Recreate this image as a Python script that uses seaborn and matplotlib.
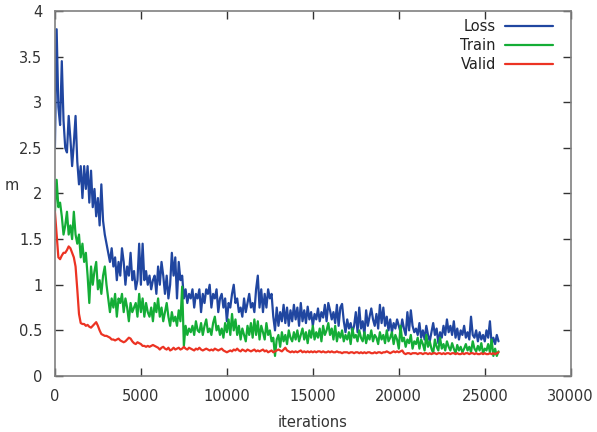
import numpy as np
import pandas as pd
import matplotlib
matplotlib.use("Agg")
import matplotlib.pyplot as plt
from matplotlib.ticker import FuncFormatter, MultipleLocator
import seaborn as sns

# iterations sampled every 100 steps
iterations = list(range(0, 25900, 100))

loss = [
    2.50, 3.80, 2.95, 2.75, 3.45, 2.80, 2.50, 2.45, 2.85, 2.60,
    2.30, 2.55, 2.85, 2.35, 2.10, 2.30, 1.95, 2.30, 2.05, 2.30,
    1.90, 2.25, 1.85, 2.05, 1.75, 1.95, 1.65, 2.10, 1.70, 1.55,
    1.45, 1.35, 1.25, 1.40, 1.20, 1.30, 1.05, 1.25, 1.10, 1.40,
    1.25, 1.00, 1.20, 1.10, 1.35, 1.05, 1.15, 0.95, 1.05, 1.45,
    1.00, 1.45, 1.05, 1.15, 1.00, 1.10, 0.95, 1.05, 1.10, 0.90,
    1.20, 1.00, 1.25, 1.10, 0.90, 1.10, 0.85, 1.00, 1.35, 1.10,
    1.30, 0.85, 1.25, 1.05, 1.10, 0.85, 0.95, 0.80, 0.90, 0.85,
    0.95, 0.75, 0.90, 0.85, 0.95, 0.70, 0.90, 0.80, 0.95, 0.90,
    1.00, 0.75, 0.90, 0.85, 0.95, 0.70, 0.85, 0.90, 0.75, 0.85,
    0.60, 0.80, 0.75, 0.90, 1.00, 0.80, 0.85, 0.70, 0.75, 0.65,
    0.85, 0.70, 0.80, 0.90, 0.75, 0.80, 0.70, 0.95, 1.10, 0.75,
    0.95, 0.70, 0.90, 0.75, 0.95, 0.85, 0.90, 0.65, 0.50, 0.75,
    0.55, 0.70, 0.60, 0.78, 0.58, 0.75, 0.55, 0.72, 0.60, 0.78,
    0.62, 0.75, 0.55, 0.80, 0.60, 0.72, 0.58, 0.76, 0.62, 0.70,
    0.55, 0.68, 0.62, 0.74, 0.60, 0.70, 0.64, 0.78, 0.60, 0.80,
    0.72, 0.62, 0.70, 0.58, 0.78, 0.55, 0.75, 0.79, 0.60, 0.48,
    0.62, 0.52, 0.58, 0.48, 0.55, 0.70, 0.48, 0.75, 0.52, 0.60,
    0.45, 0.72, 0.55, 0.65, 0.74, 0.62, 0.55, 0.68, 0.52, 0.78,
    0.58, 0.75, 0.55, 0.65, 0.50, 0.62, 0.48, 0.58, 0.52, 0.62,
    0.55, 0.48, 0.62, 0.52, 0.45, 0.70, 0.50, 0.72, 0.55, 0.48,
    0.52, 0.45, 0.58, 0.42, 0.50, 0.40, 0.55, 0.45, 0.38, 0.48,
    0.58, 0.45, 0.52, 0.36, 0.48, 0.42, 0.55, 0.45, 0.62, 0.48,
    0.55, 0.45, 0.60, 0.42, 0.52, 0.40, 0.50, 0.45, 0.55, 0.42,
    0.48, 0.40, 0.65, 0.45, 0.42, 0.50, 0.38, 0.48, 0.40, 0.45,
    0.38, 0.50, 0.42, 0.60, 0.35, 0.42, 0.35, 0.45, 0.38,
]

train = [
    1.80, 2.15, 1.85, 1.90, 1.75, 1.55, 1.65, 1.80, 1.55, 1.65,
    1.50, 1.80, 1.55, 1.45, 1.55, 1.30, 1.45, 1.25, 1.35, 1.10,
    0.80, 1.20, 1.00, 1.15, 1.25, 0.95, 1.05, 0.90, 1.10, 1.20,
    1.00, 0.85, 0.70, 0.85, 0.75, 0.90, 0.65, 0.85, 0.80, 0.90,
    0.70, 0.85, 0.75, 0.60, 0.80, 0.70, 0.75, 0.80, 0.65, 0.90,
    0.70, 0.85, 0.65, 0.80, 0.70, 0.65, 0.75, 0.60, 0.80, 0.70,
    0.85, 0.65, 0.75, 0.60, 0.70, 0.80, 0.65, 0.55, 0.70, 0.60,
    0.65, 0.55, 0.72, 0.60, 0.98, 0.33, 0.55, 0.45, 0.52, 0.48,
    0.55, 0.45, 0.60, 0.50, 0.48, 0.58, 0.45, 0.55, 0.62, 0.48,
    0.52, 0.45, 0.58, 0.65, 0.50, 0.55, 0.45, 0.52, 0.42, 0.58,
    0.48, 0.62, 0.45, 0.68, 0.50, 0.62, 0.45, 0.55, 0.40, 0.52,
    0.45, 0.38, 0.55, 0.45, 0.58, 0.42, 0.62, 0.45, 0.60, 0.40,
    0.55, 0.48, 0.40, 0.58, 0.45, 0.50, 0.38, 0.42, 0.22, 0.40,
    0.45, 0.32, 0.48, 0.38, 0.45, 0.35, 0.50, 0.42, 0.38, 0.48,
    0.40, 0.50, 0.38, 0.45, 0.52, 0.40, 0.48, 0.36, 0.50, 0.42,
    0.55, 0.40, 0.48, 0.42, 0.52, 0.38, 0.55, 0.45, 0.50, 0.58,
    0.45, 0.52, 0.40, 0.55, 0.38, 0.48, 0.42, 0.50, 0.38, 0.45,
    0.40, 0.48, 0.35, 0.52, 0.42, 0.45, 0.38, 0.50, 0.42, 0.38,
    0.48, 0.36, 0.45, 0.40, 0.50, 0.38, 0.45, 0.42, 0.35, 0.48,
    0.40, 0.45, 0.36, 0.50, 0.38, 0.42, 0.48, 0.35, 0.45, 0.40,
    0.30, 0.55, 0.38, 0.42, 0.32, 0.40, 0.36, 0.45, 0.30, 0.38,
    0.35, 0.42, 0.30, 0.40, 0.35, 0.28, 0.45, 0.32, 0.38, 0.30,
    0.25, 0.40, 0.32, 0.28, 0.42, 0.30, 0.35, 0.28, 0.38, 0.32,
    0.28, 0.36, 0.30, 0.25, 0.34, 0.28, 0.32, 0.26, 0.30, 0.35,
    0.28, 0.32, 0.26, 0.38, 0.30, 0.27, 0.33, 0.28, 0.36, 0.25,
    0.30, 0.28, 0.35, 0.26, 0.40, 0.22, 0.30, 0.22, 0.27,
]

valid = [
    1.80, 1.55, 1.30, 1.28, 1.32, 1.35, 1.35, 1.38, 1.42, 1.40,
    1.35, 1.30, 1.20, 0.95, 0.68, 0.58, 0.57, 0.57, 0.55, 0.56,
    0.54, 0.53, 0.55, 0.57, 0.59, 0.55, 0.50, 0.46, 0.45, 0.44,
    0.44, 0.43, 0.42, 0.40, 0.40, 0.39, 0.40, 0.41, 0.39, 0.38,
    0.37, 0.38, 0.40, 0.42, 0.41, 0.38, 0.36, 0.35, 0.37, 0.36,
    0.35, 0.33, 0.33, 0.32, 0.33, 0.32, 0.33, 0.34, 0.33, 0.32,
    0.31, 0.29, 0.31, 0.32, 0.30, 0.29, 0.31, 0.28, 0.29, 0.31,
    0.29, 0.30, 0.31, 0.29, 0.30, 0.32, 0.30, 0.29, 0.31, 0.30,
    0.29, 0.28, 0.30, 0.29, 0.31, 0.29, 0.28, 0.29, 0.30, 0.29,
    0.28, 0.29, 0.28, 0.30, 0.29, 0.28, 0.29, 0.30, 0.28, 0.27,
    0.26, 0.27, 0.28, 0.27, 0.29, 0.28, 0.30, 0.28, 0.27, 0.29,
    0.28, 0.27, 0.29, 0.28, 0.27, 0.28, 0.29, 0.27, 0.28, 0.27,
    0.28, 0.29, 0.27, 0.28, 0.26, 0.27, 0.28, 0.26, 0.27, 0.28,
    0.29, 0.28, 0.27, 0.29, 0.31, 0.28, 0.27, 0.26, 0.27, 0.26,
    0.27, 0.26, 0.27, 0.28, 0.26, 0.27, 0.26, 0.27, 0.26, 0.27,
    0.26, 0.27, 0.26, 0.27, 0.27, 0.26, 0.27, 0.26, 0.26, 0.27,
    0.26, 0.27, 0.26, 0.26, 0.27, 0.26, 0.26, 0.25, 0.26, 0.26,
    0.26, 0.25, 0.26, 0.26, 0.25, 0.26, 0.26, 0.25, 0.26, 0.25,
    0.26, 0.25, 0.26, 0.26, 0.25, 0.25, 0.26, 0.25, 0.26, 0.26,
    0.25, 0.26, 0.26, 0.27, 0.26, 0.25, 0.26, 0.27, 0.26, 0.27,
    0.26, 0.27, 0.28, 0.25, 0.24, 0.25, 0.25, 0.24, 0.25, 0.25,
    0.25, 0.24, 0.25, 0.25, 0.24, 0.25, 0.25, 0.24, 0.25, 0.24,
    0.25, 0.25, 0.24, 0.25, 0.25, 0.24, 0.25, 0.24, 0.25, 0.25,
    0.24, 0.25, 0.25, 0.24, 0.25, 0.24, 0.24, 0.25, 0.24, 0.25,
    0.25, 0.24, 0.25, 0.25, 0.24, 0.25, 0.24, 0.24, 0.25, 0.24,
    0.25, 0.24, 0.24, 0.25, 0.24, 0.25, 0.24, 0.25, 0.26,
]

series_names = ["Loss", "Train", "Valid"]
colors = {"Loss": "#2046a0", "Train": "#14ad36", "Valid": "#ec3323"}

df = pd.DataFrame({
    "iterations": iterations * 3,
    "m": loss + train + valid,
    "series": ["Loss"] * len(loss) + ["Train"] * len(train) + ["Valid"] * len(valid),
})

sns.set_style("white")
plt.rcParams["font.family"] = ["DejaVu Sans"]

fig = plt.figure(figsize=(5.97, 4.32), dpi=100)
ax = fig.add_axes([0.092, 0.1296, 0.864, 0.845])

sns.lineplot(data=df, x="iterations", y="m", hue="series", hue_order=series_names,
             palette=colors, linewidth=1.6, ax=ax, estimator=None, sort=False)

ax.set_xlim(0, 30000)
ax.set_ylim(0, 4)
ax.xaxis.set_major_locator(MultipleLocator(5000))
ax.yaxis.set_major_locator(MultipleLocator(0.5))
ax.yaxis.set_major_formatter(FuncFormatter(lambda v, p: "%g" % v))

for side in ax.spines.values():
    side.set_color("#808080")
    side.set_linewidth(1.2)

ax.tick_params(axis="both", direction="in", length=6, width=1, color="#333333",
               labelsize=10.5, labelcolor="#333333", top=True, right=True,
               bottom=True, left=True)
ax.tick_params(axis="x", pad=9)
ax.tick_params(axis="y", pad=9)

ax.set_xlabel("iterations", fontsize=10.5, color="#333333", labelpad=8)
ax.set_ylabel("m", fontsize=10.5, color="#333333", rotation=0, labelpad=18)
ax.yaxis.set_label_coords(-0.083, 0.5)

ax.legend(loc="upper right", frameon=False, markerfirst=False, fontsize=10.5,
          handlelength=3.3, handletextpad=0.6, labelspacing=0.25,
          bbox_to_anchor=(0.985, 1.005), borderaxespad=0.3)
for t in ax.get_legend().get_texts():
    t.set_color("#222222")

fig.savefig("out.png", dpi=100)
